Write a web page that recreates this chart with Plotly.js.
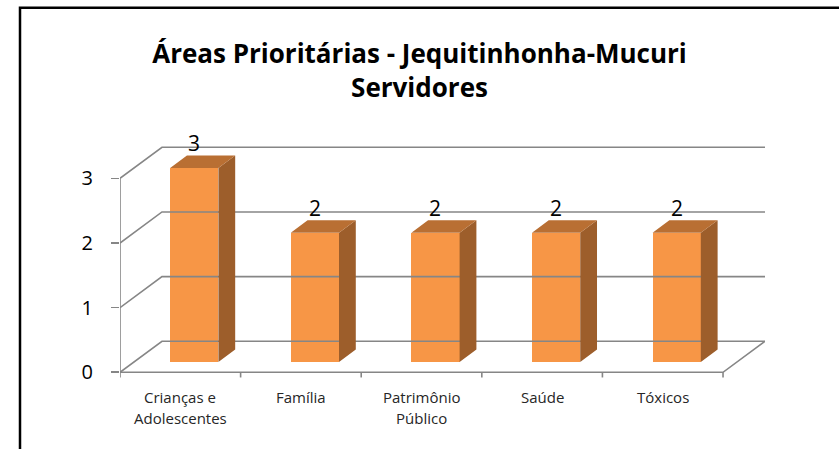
<!DOCTYPE html>
<html>
<head>
<meta charset="utf-8">
<script src="https://cdn.plot.ly/plotly-3.0.1.min.js"></script>
<style>html,body{margin:0;padding:0;background:#fff;}#chart{width:839px;height:449px;}</style>
</head>
<body>
<div id="chart"></div>
<script>
// ---- data ----
const chartTitle = "Áreas Prioritárias - Jequitinhonha-Mucuri<br>Servidores";
const categories = ["Crianças e\nAdolescentes", "Família", "Patrimônio\nPúblico", "Saúde", "Tóxicos"];
const values = [3, 2, 2, 2, 2];
const yTicks = [0, 1, 2, 3];

// ---- 3D geometry (data units) ----
const DX = 0.348, DY = 0.48;     // floor depth offset
const F1 = 0.333, F2 = 0.733;    // bar depth start/end fraction
const BW = 0.4;                  // bar width
const n = categories.length;
const xL = -0.5, xR = n - 0.5;
const FONT = "'Open Sans', 'Noto Sans', sans-serif";
const GRID = "#868686";

const traces = [];

// walls / gridlines
let gx = [], gy = [];
yTicks.forEach(v => { gx.push(xL, xL + DX, xR + DX, null); gy.push(v, v + DY, v + DY, null); });
// floor front & right edge
gx.push(xL, xR, xR + DX, null); gy.push(0, 0, DY, null);
// front vertical axis
gx.push(xL, xL, null); gy.push(0, yTicks[yTicks.length - 1], null);
// category boundary ticks
for (let k = 0; k <= n; k++) { gx.push(k - 0.5, k - 0.5, null); gy.push(0, -0.08, null); }
traces.push({type: 'scatter', mode: 'lines', x: gx, y: gy, line: {color: GRID, width: 1.6},
  hoverinfo: 'skip', showlegend: false});

// bar front faces
const fx = values.map((v, i) => i + F1 * DX);
traces.push({type: 'bar', x: fx, y: values, base: values.map(() => F1 * DY), width: BW,
  marker: {color: '#F79646', line: {width: 0}}, showlegend: false, hoverinfo: 'skip'});

// side and top faces
let sx = [], sy = [], tx = [], ty = [];
const bdx = (F2 - F1) * DX, bdy = (F2 - F1) * DY;
values.forEach((v, i) => {
  const l = i + F1 * DX - BW / 2, r = i + F1 * DX + BW / 2, b = F1 * DY, t = v + F1 * DY;
  sx.push(r, r, r + bdx, r + bdx, r, null); sy.push(b, t, t + bdy, b + bdy, b, null);
  tx.push(l, r, r + bdx, l + bdx, l, null); ty.push(t, t, t + bdy, t + bdy, t, null);
});
traces.push({type: 'scatter', mode: 'lines', x: sx, y: sy, fill: 'toself', fillcolor: '#9D5E2B',
  line: {width: 0, color: '#9D5E2B'}, showlegend: false, hoverinfo: 'skip'});
traces.push({type: 'scatter', mode: 'lines', x: tx, y: ty, fill: 'toself', fillcolor: '#B96F33',
  line: {width: 0, color: '#B96F33'}, showlegend: false, hoverinfo: 'skip'});

// annotations: data labels + category labels
const annotations = [];
values.forEach((v, i) => {
  annotations.push({x: i + F1 * DX, y: v + F1 * DY, xref: 'x', yref: 'y', text: String(v),
    showarrow: false, yanchor: 'middle', xanchor: 'center', yshift: 25,
    font: {family: FONT, size: 21, color: '#000'}});
});
categories.forEach((c, i) => {
  c.split("\n").forEach((line, j) => {
    annotations.push({x: i, y: 0, xref: 'x', yref: 'y', text: line, showarrow: false,
      yanchor: 'middle', xanchor: 'center', yshift: -25 - 21 * j,
      font: {family: FONT, size: 15, color: '#262626'}});
  });
});

const layout = {
  width: 839, height: 449,
  margin: {l: 120, r: 74, t: 146, b: 67.3, pad: 0},
  paper_bgcolor: '#fff', plot_bgcolor: 'rgba(0,0,0,0)',
  title: {text: chartTitle, x: 0.5, xanchor: 'center', y: 1 - 63 / 449, yanchor: 'top',
    font: {family: FONT, size: 26, weight: 700, color: '#000'}},
  xaxis: {range: [xL, xR + DX], showgrid: false, zeroline: false, showline: false,
    showticklabels: false, ticks: '', fixedrange: true},
  yaxis: {range: [-0.15, 3.5], showgrid: false, zeroline: false, showline: false,
    tickmode: 'array', tickvals: yTicks, ticktext: yTicks.map(String), ticks: 'outside',
    ticklen: 8, tickwidth: 1.6, tickcolor: GRID, ticklabelstandoff: 14,
    tickfont: {family: FONT, size: 20, color: '#000'}, fixedrange: true},
  bargap: 0,
  annotations: annotations,
  shapes: [{type: 'rect', xref: 'paper', yref: 'paper',
    x0: (20 - 120) / 645, x1: (850 - 120) / 645,
    y0: -0.4, y1: (381.7 - 8) / 235.7,
    line: {color: '#000', width: 2.5}, fillcolor: 'rgba(0,0,0,0)', layer: 'below'}],
  showlegend: false
};

Plotly.newPlot('chart', traces, layout, {displayModeBar: false, staticPlot: true});
</script>
</body>
</html>
